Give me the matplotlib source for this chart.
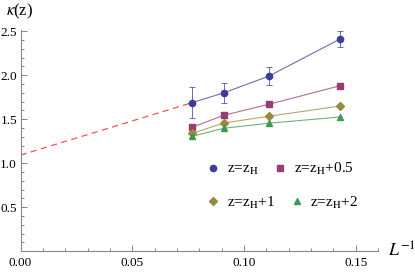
import numpy as np
import matplotlib
matplotlib.use('Agg')
from matplotlib import pyplot as plt
from matplotlib.ticker import MultipleLocator, FixedLocator

# data
inv_L = [1/13, 1/11, 1/9, 1/7]
kappa_zH = [1.69, 1.80, 1.99, 2.41]
kappa_zH_err = [0.18, 0.11, 0.10, 0.09]
kappa_zH05 = [1.41, 1.545, 1.67, 1.88]
kappa_zH1 = [1.34, 1.458, 1.534, 1.65]
kappa_zH2 = [1.307, 1.398, 1.455, 1.526]
fit_x = [0.0, 1/13]
fit_y = [1.093, 1.69]

labels = [r'z=z$_\mathrm{H}$', r'z=z$_\mathrm{H}$+0.5',
          r'z=z$_\mathrm{H}$+1', r'z=z$_\mathrm{H}$+2']
colors = ['#3d3d99', '#993d71', '#998b3d', '#3d9954']

plt.rcParams['font.family'] = ['Liberation Serif', 'DejaVu Serif']
plt.rcParams['mathtext.fontset'] = 'stix'

fig = plt.figure(figsize=(4.15, 2.72), dpi=100)
ax = fig.add_axes([0.0494, 0.0761, 0.8615, 0.8154])

ax.plot(fit_x, fit_y, color='#ff5050', lw=0.9, ls=(0, (5, 3.5)), zorder=1)

ax.plot(inv_L, kappa_zH, color=colors[0], lw=0.8, alpha=0.75, zorder=2)
ax.errorbar(inv_L, kappa_zH, yerr=kappa_zH_err, fmt='none', ecolor=colors[0],
            elinewidth=0.7, capsize=2.5, capthick=0.7, alpha=0.75, zorder=2)
h0, = ax.plot(inv_L, kappa_zH, 'o', color=colors[0], ms=4.5, ls='none', zorder=3)

series = [kappa_zH05, kappa_zH1, kappa_zH2]
markers = ['s', 'D', '^']
sizes = [4, 3.6, 4]
handles = [h0]
for vals, c, m, s in zip(series, colors[1:], markers, sizes):
    ax.plot(inv_L, vals, color=c, lw=0.8, alpha=0.75, zorder=2)
    h, = ax.plot(inv_L, vals, m, color=c, ms=s, ls='none', zorder=3)
    handles.append(h)

ax.set_xlim(0, 0.16)
ax.set_ylim(0, 2.52)

for side in ['top', 'right']:
    ax.spines[side].set_visible(False)
for side in ['left', 'bottom']:
    ax.spines[side].set_color('#888888')
    ax.spines[side].set_linewidth(0.8)

ax.xaxis.set_major_locator(FixedLocator([0.0, 0.05, 0.10, 0.15]))
ax.xaxis.set_minor_locator(MultipleLocator(0.01))
ax.yaxis.set_major_locator(FixedLocator([0.5, 1.0, 1.5, 2.0, 2.5]))
ax.yaxis.set_minor_locator(MultipleLocator(0.1))
ax.set_xticklabels(['0.00', '0.05', '0.10', '0.15'])
ax.set_yticklabels(['0.5', '1.0', '1.5', '2.0', '2.5'])
ax.tick_params(which='both', direction='in', color='#888888', width=0.7,
               labelsize=9.5)
ax.tick_params(axis='y', pad=2.5)
ax.tick_params(axis='x', pad=4)
ax.tick_params(which='major', length=4)
ax.tick_params(which='minor', length=2)

fig.text(0.015, 0.995, r'$\kappa$(z)', fontsize=12, va='top', ha='left')
fig.text(0.935, 0.078, r'$L^{-1}$', fontsize=13, va='center', ha='left')

leg1 = ax.legend(handles[:2], labels[:2], ncol=2, frameon=False, fontsize=11,
                 loc='center left', bbox_to_anchor=(0.518, 0.37),
                 handlelength=1.0, handletextpad=0.4, columnspacing=0.9,
                 borderpad=0, borderaxespad=0)
ax.add_artist(leg1)
ax.legend(handles[2:], labels[2:], ncol=2, frameon=False, fontsize=11,
          loc='center left', bbox_to_anchor=(0.518, 0.22),
          handlelength=1.0, handletextpad=0.4, columnspacing=0.9,
          borderpad=0, borderaxespad=0)

fig.savefig('out.png', dpi=100)
